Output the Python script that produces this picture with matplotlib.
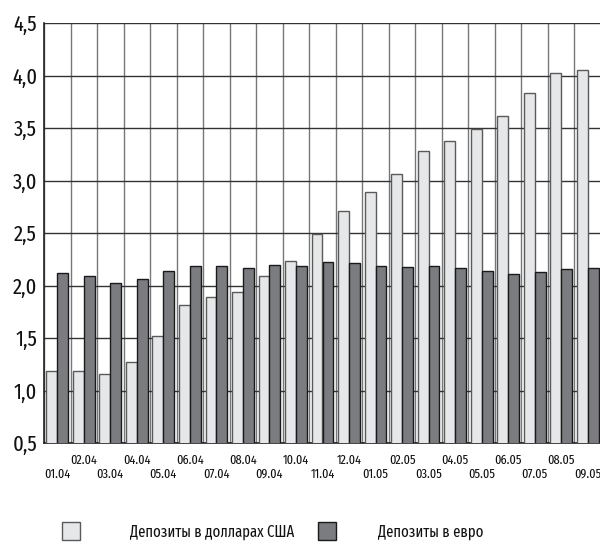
import matplotlib
matplotlib.use('Agg')
import matplotlib.pyplot as plt
import matplotlib.patches as mp
import numpy as np

plt.rcParams['font.family'] = ['Fira Sans Extra Condensed', 'DejaVu Sans']

months = ['01.04', '02.04', '03.04', '04.04', '05.04', '06.04', '07.04',
          '08.04', '09.04', '10.04', '11.04', '12.04', '01.05', '02.05',
          '03.05', '04.05', '05.05', '06.05', '07.05', '08.05', '09.05']
usd = [1.19, 1.19, 1.16, 1.27, 1.52, 1.81, 1.89, 1.94, 2.09, 2.23, 2.49,
       2.71, 2.89, 3.06, 3.28, 3.38, 3.49, 3.61, 3.83, 4.02, 4.05]
eur = [2.12, 2.09, 2.02, 2.06, 2.14, 2.19, 2.19, 2.17, 2.20, 2.19, 2.22,
       2.21, 2.19, 2.18, 2.19, 2.17, 2.14, 2.11, 2.13, 2.16, 2.17]

light = '#e6e7e9'
dark = '#7b7c80'

fig = plt.figure(figsize=(6, 5.45), dpi=100)
ax = fig.add_axes([44 / 600, 102 / 545, 557 / 600, 420 / 545])

x = np.arange(len(months))
w = 0.41
ax.bar(x - w / 2, usd, width=w, color=light, edgecolor='#5a5a5a', linewidth=1, zorder=3)
ax.bar(x + w / 2, eur, width=w, color=dark, edgecolor='#1a1a1a', linewidth=1, zorder=3)

ax.set_xlim(-0.5, len(months) - 0.5)
ax.set_ylim(0.5, 4.5)

# horizontal grid on the value ticks, vertical lines between months
yt = np.arange(0.5, 4.51, 0.5)
ax.set_yticks(yt)
ax.set_yticklabels([f'{v:.1f}'.replace('.', ',') for v in yt], fontsize=16)
ax.set_xticks(x)
ax.set_xticklabels([m if i % 2 else '\n' + m for i, m in enumerate(months)], fontsize=9.5,
                   linespacing=1.15)
ax.set_xticks(np.arange(-0.5, len(months)), minor=True)
ax.grid(axis='y', which='major', color='#333333', linewidth=1, zorder=0)
ax.grid(axis='x', which='minor', color='#777777', linewidth=1, zorder=0)
ax.tick_params(axis='both', which='both', length=0, labelcolor='#111111')
ax.tick_params(axis='y', pad=5)
ax.tick_params(axis='x', pad=8)

for side in ['top', 'right']:
    ax.spines[side].set_visible(False)
for side in ['left', 'bottom']:
    ax.spines[side].set_color('#222222')
    ax.spines[side].set_linewidth(1.2)

# legend drawn below the chart
fig.add_artist(mp.Rectangle((62 / 600, 5 / 545), 18 / 600, 18 / 545, transform=fig.transFigure,
                            facecolor=light, edgecolor='#5a5a5a', linewidth=1))
fig.text(130 / 600, 13 / 545, 'Депозиты в долларах США', fontsize=11.5, color='#111111',
         va='center', ha='left')
fig.add_artist(mp.Rectangle((318 / 600, 5 / 545), 18 / 600, 18 / 545, transform=fig.transFigure,
                            facecolor=dark, edgecolor='#1a1a1a', linewidth=1))
fig.text(378 / 600, 13 / 545, 'Депозиты в евро', fontsize=11.5, color='#111111',
         va='center', ha='left')

fig.savefig('out.png', dpi=100)
